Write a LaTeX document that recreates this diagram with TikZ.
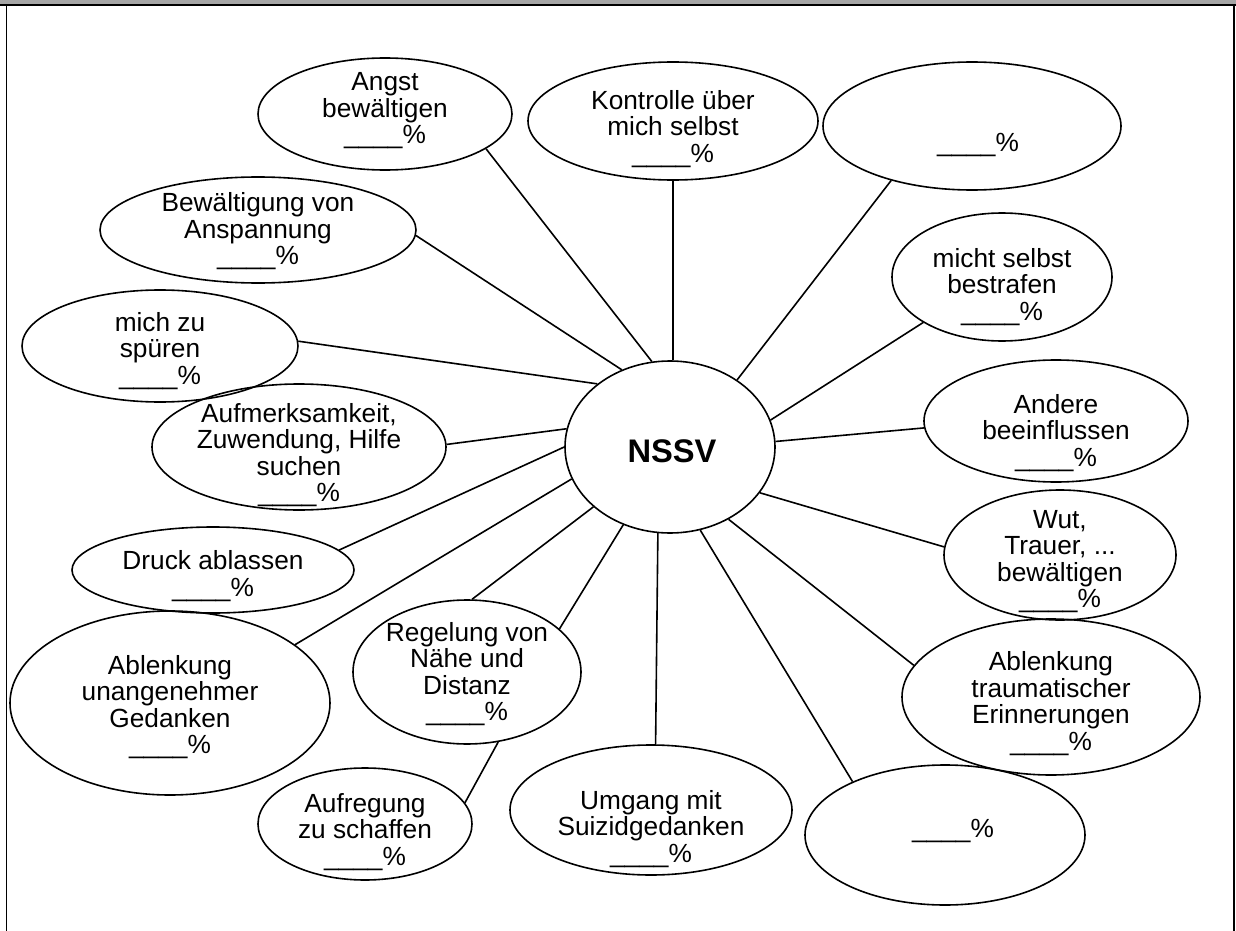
\documentclass[tikz,border=0pt]{standalone}
\usepackage{fontspec}
\setmainfont{Liberation Sans}
\usetikzlibrary{shapes.geometric}
\begin{document}
\begin{tikzpicture}[x=0.75pt,y=-0.75pt,
  bub/.style 2 args={draw,ellipse,line width=1.2pt,inner sep=0pt,minimum width=1.5pt*#1,minimum height=1.5pt*#2},
  txt/.style={align=center,font=\fontsize{19.7pt}{19.9pt}\selectfont,inner sep=0pt},
  con/.style={line width=1.2pt}]
\useasboundingbox (0,0) rectangle (1236,931);
% frame
\fill[black!35] (0,0) rectangle (1236,4);
\draw[line width=1.2pt] (0,4.8) -- (1236,4.8);
\draw[line width=1.2pt] (6.5,4) -- (6.5,931);
\draw[line width=1.2pt] (1234,4) -- (1234,931);
% centre
\node[bub={105}{86}] (c) at (670,447) {};
\node[font=\fontsize{24.5pt}{26pt}\selectfont\bfseries,inner sep=0pt,xshift=1.5pt,yshift=-3.5pt] at (c) {NSSV};
% bubbles
\node[bub={127}{56}] (a) at (385,114) {};
\node[txt,yshift=2.4pt] at (a) {Angst\\bewältigen\\\_\_\_\_\%};
\node[bub={145}{59}] (b) at (673,121) {};
\node[txt,yshift=-6pt] at (b) {Kontrolle über\\mich selbst\\\_\_\_\_\%};
\node[bub={149}{64}] (tr) at (972,126) {};
\node[txt,xshift=4.5pt,yshift=-14pt] at (tr) {\_\_\_\_\%};
\node[bub={110}{64}] (d) at (1002,277) {};
\node[txt,yshift=-7.5pt] at (d) {micht selbst\\bestrafen\\\_\_\_\_\%};
\node[bub={132}{61}] (e) at (1056,421) {};
\node[txt,yshift=-9pt] at (e) {Andere\\beeinflussen\\\_\_\_\_\%};
\node[bub={116}{65}] (f) at (1060,555) {};
\node[txt,yshift=-5pt] at (f) {Wut,\\Trauer, ...\\bewältigen\\\_\_\_\_\%};
\node[bub={149}{78}] (g) at (1051,697) {};
\node[txt,yshift=-4.9pt] at (g) {Ablenkung\\traumatischer\\Erinnerungen\\\_\_\_\_\%};
\node[bub={140}{70}] (br) at (945,835) {};
\node[txt,xshift=6pt,yshift=3pt] at (br) {\_\_\_\_\%};
\node[bub={141}{65}] (i) at (651,810) {};
\node[txt,yshift=-14pt] at (i) {Umgang mit\\Suizidgedanken\\\_\_\_\_\%};
\node[bub={107}{56}] (j) at (365,824) {};
\node[txt,yshift=-6pt] at (j) {Aufregung\\zu schaffen\\\_\_\_\_\%};
\node[bub={114}{72}] (k) at (467,672) {};
\node[txt,yshift=-1.5pt] at (k) {Regelung von\\Nähe und\\Distanz\\\_\_\_\_\%};
\node[bub={160}{92}] (l) at (170,703) {};
\node[txt,yshift=-3pt] at (l) {Ablenkung\\unangenehmer\\Gedanken\\\_\_\_\_\%};
\node[bub={141}{43}] (m) at (213,570) {};
\node[txt,yshift=-4.5pt] at (m) {Druck ablassen\\\_\_\_\_\%};
\node[bub={147}{63}] (n) at (299,447) {};
\node[txt,yshift=-6pt] at (n) {Aufmerksamkeit,\\Zuwendung, Hilfe\\suchen\\\_\_\_\_\%};
\node[bub={138}{56}] (o) at (160,346) {};
\node[txt,yshift=-3.75pt] at (o) {mich zu\\spüren\\\_\_\_\_\%};
\node[bub={158}{53}] (p) at (258,230) {};
\node[txt,yshift=-1pt] at (p) {Bewältigung von\\Anspannung\\\_\_\_\_\%};
% connectors
\draw[con] (c.102.6) -- (a.-19.9);
\draw[con] (c.88.7) -- (b.-90);
\draw[con] (c.45.4) -- (tr.-146.3);
\draw[con] (c.15.7) -- (d.-150.3);
\draw[con] (c.3) -- (e.-177.8);
\draw[con] (c.-27.6) -- (f.176.5);
\draw[con] (c.-51) -- (g.167.1);
\draw[con] (c.-70) -- (br.150.3);
\draw[con] (c.-98.5) -- (i.86.5);
\draw[con] (c.-121) -- (k.25.4);
\draw[con] (c.-142) -- (k.86.2);
\draw[con] (k.-66) -- (j.12.2);
\draw[con] (c.-162.4) -- (l.25);
\draw[con] (c.180) -- (m.9.6);
\draw[con] (c.170.8) -- (n.1.6);
\draw[con] (c.139.7) -- (o.2.5);
\draw[con] (c.122) -- (p.-2.9);
\end{tikzpicture}
\end{document}
